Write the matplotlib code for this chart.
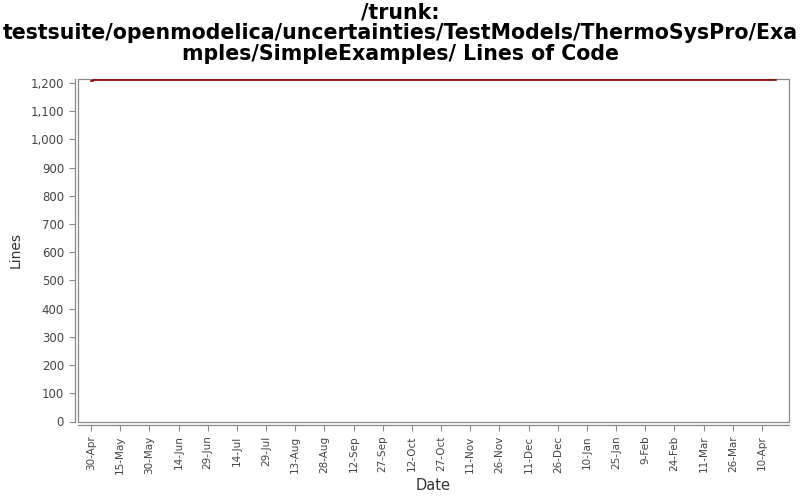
import datetime as dt
import matplotlib
matplotlib.use('Agg')
import matplotlib.pyplot as plt
import matplotlib.dates as mdates
from matplotlib.patches import Rectangle
from matplotlib.ticker import FuncFormatter, MultipleLocator

# lines of code over time
dates = [dt.date(2010, 4, 30), dt.date(2010, 5, 1), dt.date(2011, 4, 17)]
lines = [1205, 1211, 1211]

tick_start = dt.date(2010, 4, 30)
tick_count = 24
tick_step_days = 15

title = ('/trunk:\ntestsuite/openmodelica/uncertainties/TestModels/ThermoSysPro/Exa\n'
         'mples/SimpleExamples/ Lines of Code')

fig = plt.figure(figsize=(8, 5), dpi=100)
ax = fig.add_axes([0.0975, 0.157, 0.889, 0.684])

ax.plot(dates, lines, color='#8b0000', linewidth=1.2, drawstyle='steps-post')

ax.set_xlim(mdates.date2num(dt.date(2010, 4, 23)) + 0.3, mdates.date2num(dt.date(2011, 4, 24)))
ax.set_ylim(0, 1212)

for s in ax.spines.values():
    s.set_color('#888888')
    s.set_linewidth(0.9)
ax.spines['top'].set_visible(False)
ax.spines['right'].set_visible(False)
ax.spines['left'].set_position(('outward', 2.5))
ax.spines['bottom'].set_position(('outward', 2.5))
ax.add_patch(Rectangle((0, 0), 1, 1, transform=ax.transAxes, fill=False,
                       edgecolor='#888888', linewidth=0.9, clip_on=False))

ticks = [tick_start + dt.timedelta(days=tick_step_days * i) for i in range(tick_count)]
ax.set_xticks(ticks)
ax.xaxis.set_major_formatter(FuncFormatter(
    lambda v, p: '%d-%s' % (mdates.num2date(v).day, mdates.num2date(v).strftime('%b'))))
ax.yaxis.set_major_locator(MultipleLocator(100))
ax.yaxis.set_major_formatter(FuncFormatter(lambda v, p: '{:,.0f}'.format(v)))

ax.tick_params(axis='both', labelsize=8.5, colors='#444444', length=4, width=0.8,
               color='#888888')
ax.tick_params(axis='x', labelrotation=90, labelsize=7.5)

ax.set_xlabel('Date', fontsize=10.5, color='#333333', labelpad=3)
ax.set_ylabel('Lines', fontsize=10, color='#333333', labelpad=6)
fig.suptitle(title, fontsize=14.8, fontweight='bold', y=0.995, linespacing=1.05)

plt.savefig('out.png', dpi=100)
